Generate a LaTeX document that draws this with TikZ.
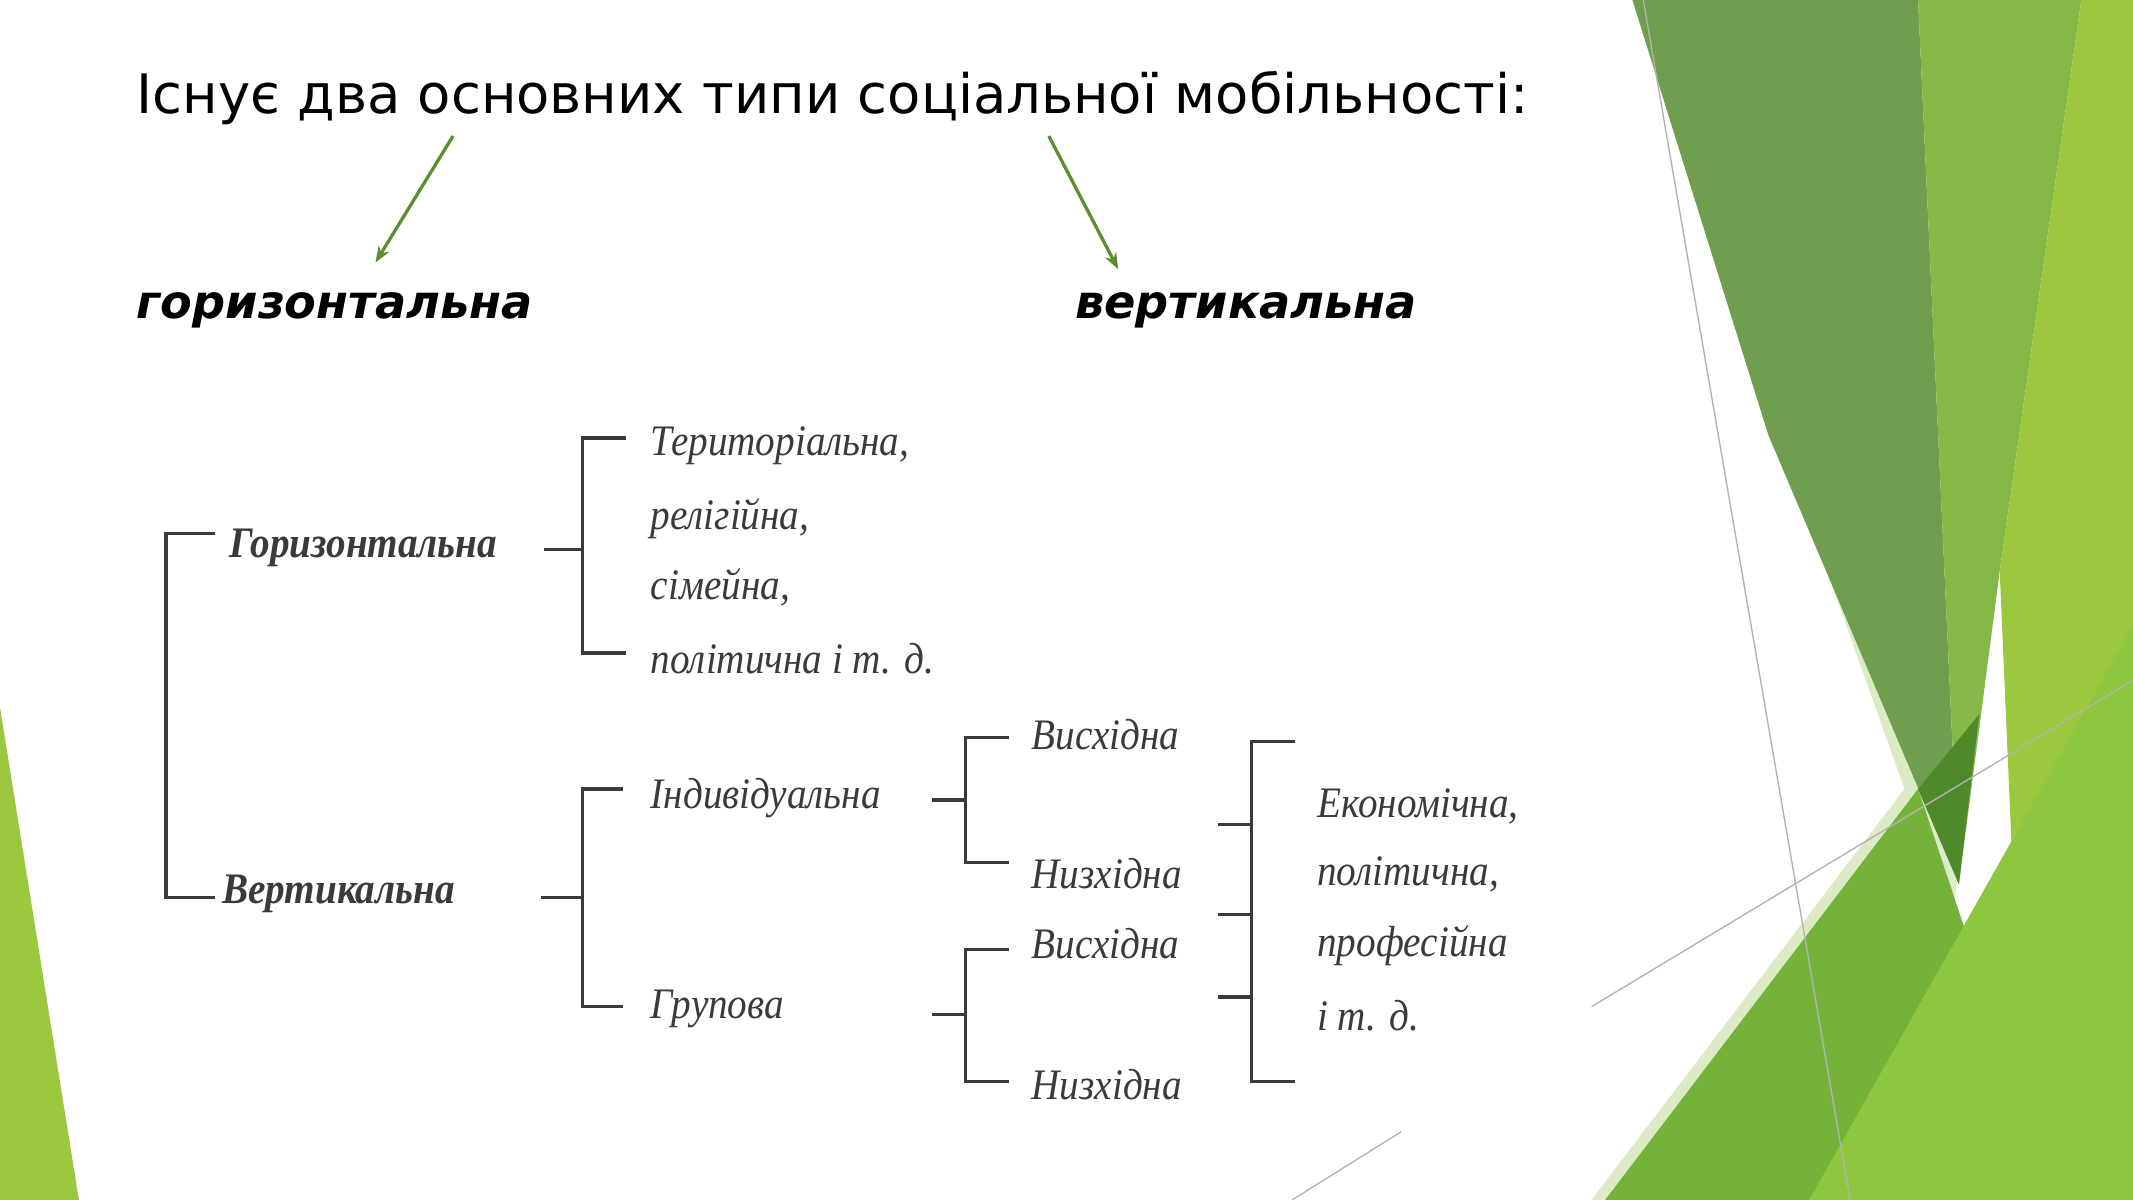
\documentclass[tikz,border=0pt]{standalone}
\usepackage{fontspec}
\setmainfont{Liberation Serif}
\newfontfamily\titlefont{DejaVu Sans}
\usetikzlibrary{arrows.meta}
\definecolor{gA}{HTML}{6F9E4F}
\definecolor{gB}{HTML}{86B848}
\definecolor{gC}{HTML}{9CC840}
\definecolor{gD}{HTML}{DCEBC6}
\definecolor{gE}{HTML}{74B23A}
\definecolor{gF}{HTML}{8DC63F}
\definecolor{gG}{HTML}{4E8A2A}
\definecolor{txt}{HTML}{3A3A3A}
\tikzset{
 ttl/.style={font=\titlefont\fontsize{20}{24}\selectfont, anchor=west, inner sep=0},
 sub/.style={font=\titlefont\bfseries\itshape\fontsize{17}{20}\selectfont, anchor=west, inner sep=0},
 lab/.style={font=\itshape\fontsize{16}{18}\selectfont, text=txt, anchor=west, inner sep=0, xscale=0.9},
 labb/.style={lab, font=\bfseries\itshape\fontsize{16}{18}\selectfont},
 brk/.style={draw=txt, line width=1.2pt},
 garrow/.style={draw=gE!80!black, line width=1.2pt, -{Stealth[length=6pt]}},
 thin/.style={draw=gray!60, line width=0.5pt}
}
\begin{document}
\begin{tikzpicture}[x=0.5pt,y=-0.5pt]
\useasboundingbox (0,0) rectangle (1568,882);
\fill[white] (0,0) rectangle (1568,882);
% background shapes
\fill[gD] (1265,200) -- (1440,640) -- (1400,882) -- (1170,882) -- (1400,580) -- cycle;
\fill[gA] (1200,0) -- (1410,0) -- (1440,650) -- (1300,320) -- cycle;
\fill[gB] (1410,0) -- (1530,0) -- (1470,420) -- (1440,650) -- cycle;
\fill[gC] (1530,0) -- (1568,0) -- (1568,882) -- (1490,882) -- (1470,420) -- cycle;
\fill[gE] (1180,882) -- (1410,580) -- (1450,700) -- (1430,882) -- cycle;
\fill[gG] (1410,580) -- (1455,525) -- (1440,650) -- cycle;
\fill[gF] (1330,882) -- (1568,460) -- (1568,882) -- cycle;
\fill[gC] (0,520) -- (58,882) -- (0,882) -- cycle;
\draw[thin] (1208,0) -- (1360,882);
\draw[thin] (1170,740) -- (1568,500);
\draw[thin] (950,882) -- (1030,832);
% title
\node[ttl] (t) at (100,72) {Існує два основних типи соціальної мобільності:};
\node[sub] (h) at (100,228) {горизонтальна};
\node[sub] (v) at (790,228) {вертикальна};
\coordinate (a1) at (333,100); \coordinate (a2) at (771,100);
\draw[garrow] (a1) -- (276,193);
\draw[garrow] (a2) -- (822,198);
% diagram labels
\node[labb] (G) at (168,403) {Горизонтальна};
\node[labb] (V) at (163,657) {Вертикальна};
\node[lab] (g1) at (478,328) {Територіальна,};
\node[lab] (g2) at (478,381) {релігійна,};
\node[lab] (g3) at (478,432) {сімейна,};
\node[lab] (g4) at (478,484) {політична і т. д.};
\node[lab] (I) at (478,587) {Індивідуальна};
\node[lab] (Gr) at (478,742) {Групова};
\node[lab] (u1) at (758,540) {Висхідна};
\node[lab] (d1) at (758,642) {Низхідна};
\node[lab] (u2) at (758,694) {Висхідна};
\node[lab] (d2) at (758,797) {Низхідна};
\node[lab] (e1) at (968,593) {Економічна,};
\node[lab] (e2) at (968,643) {політична,};
\node[lab] (e3) at (968,695) {професійна};
\node[lab] (e4) at (968,747) {і т. д.};
% brackets
\draw[brk] (158,392) -- (122,392) -- (122,660) -- (158,660);
\draw[brk] (400,404) -- (428,404);
\draw[brk] (460,322) -- (428,322) -- (428,480) -- (460,480);
\draw[brk] (398,660) -- (428,660);
\draw[brk] (458,580) -- (428,580) -- (428,740) -- (458,740);
\draw[brk] (685,588) -- (710,588);
\draw[brk] (742,542) -- (710,542) -- (710,634) -- (742,634);
\draw[brk] (685,746) -- (710,746);
\draw[brk] (742,698) -- (710,698) -- (710,795) -- (742,795);
\draw[brk] (952,545) -- (920,545) -- (920,795) -- (952,795);
\draw[brk] (895,606) -- (920,606);
\draw[brk] (895,672) -- (920,672);
\draw[brk] (895,733) -- (920,733);
\end{tikzpicture}
\end{document}
